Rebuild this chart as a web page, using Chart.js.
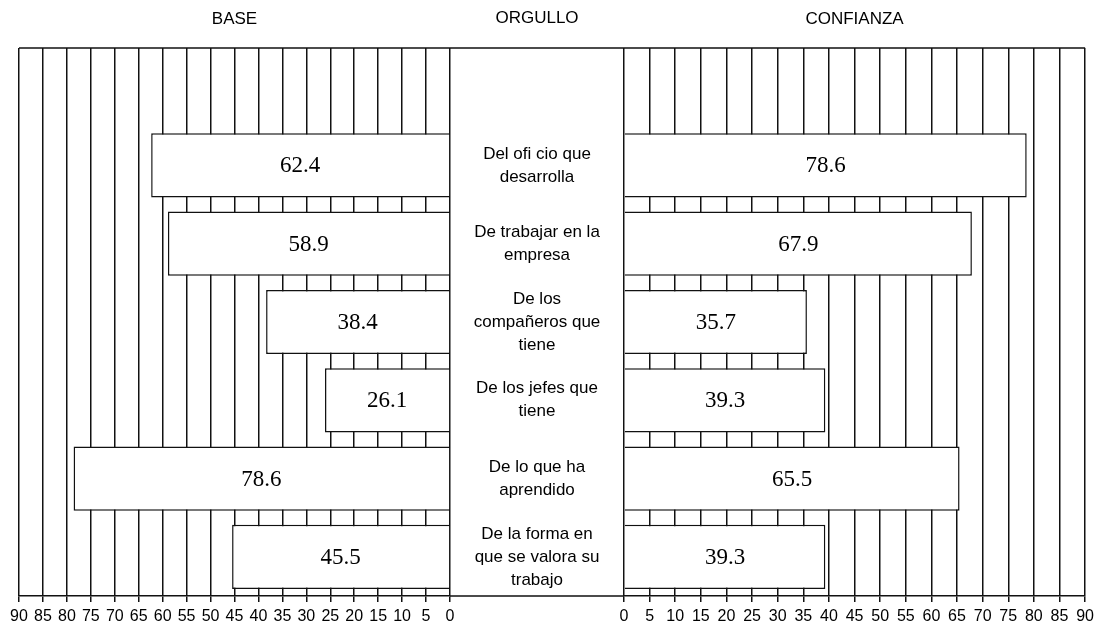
<!DOCTYPE html>
<html>
<head>
<meta charset="utf-8">
<script src="https://cdn.jsdelivr.net/npm/chart.js@4.4.1/dist/chart.umd.min.js"></script>
<style>
  html, body { margin: 0; padding: 0; background: #fff; }
  #wrap { position: relative; width: 1099px; height: 631px; }
  #wrap canvas { position: absolute; left: 0; top: 0; }
</style>
</head>
<body>
<div id="wrap">
  <canvas id="leftChart" width="1099" height="631" style="width:1099px;height:631px"></canvas>
  <canvas id="rightChart" width="1099" height="631" style="width:1099px;height:631px"></canvas>
</div>
<script>
// Data
const categories = [
  ["Del ofi cio que", "desarrolla"],
  ["De trabajar en la", "empresa"],
  ["De los", "compañeros que", "tiene"],
  ["De los jefes que", "tiene"],
  ["De lo que ha", "aprendido"],
  ["De la forma en", "que se valora su", "trabajo"]
];
const baseValues = [62.4, 58.9, 38.4, 26.1, 78.6, 45.5];
const confianzaValues = [78.6, 67.9, 35.7, 39.3, 65.5, 39.3];
const leftTitle = "BASE";
const middleTitle = "ORGULLO";
const rightTitle = "CONFIANZA";
const axisMax = 90;
const axisStep = 5;

const INK = "#111";
const SANS = "Arial, 'Liberation Sans', sans-serif";
const SERIF = "'Times New Roman', 'Liberation Serif', serif";

// an empty slot sits above the first row in the original
const rowLabels = [""].concat(categories.map(c => c.join(" ")));
const pad = arr => [null].concat(arr);

// Value text inside every bar, plus frame lines and headings
const decorPlugin = {
  id: "decor",
  afterDatasetsDraw(chart, args, opts) {
    const ctx = chart.ctx;
    const area = chart.chartArea;
    const yScale = chart.scales.y;

    // values inside bars
    const meta = chart.getDatasetMeta(0);
    ctx.save();
    ctx.fillStyle = "#000";
    ctx.font = "23px " + SERIF;
    ctx.textAlign = "center";
    ctx.textBaseline = "middle";
    meta.data.forEach((bar, i) => {
      const v = chart.data.datasets[0].data[i];
      if (v === null) return;
      const p = bar.getProps(["x", "base", "y"], true);
      ctx.fillText(v.toFixed(1), (p.x + p.base) / 2, p.y + 1);
    });
    ctx.restore();

    // top frame line (and bottom line through the middle gap)
    const frameLeft = opts.withMiddle ? yScale.left : area.left;
    ctx.save();
    ctx.strokeStyle = INK;
    ctx.lineWidth = 1.5;
    ctx.beginPath();
    ctx.moveTo(frameLeft, area.top);
    ctx.lineTo(area.right, area.top);
    if (opts.withMiddle) {
      ctx.moveTo(yScale.left, area.bottom);
      ctx.lineTo(area.left, area.bottom);
    }
    ctx.stroke();
    ctx.restore();

    // middle category labels
    if (opts.withMiddle) {
      ctx.save();
      ctx.fillStyle = "#000";
      ctx.font = "17px " + SANS;
      ctx.textAlign = "center";
      ctx.textBaseline = "middle";
      const cx = (yScale.left + yScale.right) / 2;
      const lineH = 23;
      categories.forEach((lines, i) => {
        const cy = yScale.getPixelForValue(i + 1);
        const y0 = cy - (lines.length - 1) * lineH / 2;
        lines.forEach((t, k) => ctx.fillText(t, cx, y0 + k * lineH));
      });
      ctx.restore();
    }

    // headings
    ctx.save();
    ctx.fillStyle = "#000";
    ctx.font = "17px " + SANS;
    ctx.textAlign = "center";
    ctx.textBaseline = "middle";
    ctx.fillText(opts.title, (area.left + area.right) / 2, 19);
    if (opts.withMiddle) {
      ctx.fillText(middleTitle, (yScale.left + yScale.right) / 2, 18);
    }
    ctx.restore();
  }
};

function makeChart(canvasId, values, side) {
  const isLeft = side === "left";
  return new Chart(document.getElementById(canvasId), {
    type: "bar",
    data: {
      labels: rowLabels,
      datasets: [{
        data: pad(values),
        backgroundColor: "#fff",
        borderColor: INK,
        borderWidth: 1.5,
        barPercentage: 0.82,
        categoryPercentage: 1
      }]
    },
    options: {
      indexAxis: "y",
      responsive: false,
      animation: false,
      layout: {
        padding: isLeft
          ? { left: 19, right: 649, top: 48, bottom: 0 }
          : { left: 450, right: 9, top: 48, bottom: 0 }
      },
      plugins: {
        legend: { display: false },
        tooltip: { enabled: false },
        decor: { title: isLeft ? leftTitle : rightTitle, withMiddle: !isLeft }
      },
      scales: {
        x: {
          type: "linear",
          min: 0,
          max: axisMax,
          reverse: isLeft,
          afterFit(scale) { scale.height = 35; },
          grid: { color: INK, lineWidth: 1.5, tickLength: 6, drawTicks: true },
          border: { color: INK, width: 1.5 },
          ticks: {
            stepSize: axisStep,
            autoSkip: false,
            maxRotation: 0,
            padding: 5,
            color: "#000",
            font: { family: SANS, size: 16 }
          }
        },
        y: {
          type: "category",
          display: !isLeft,
          position: "left",
          afterFit(scale) { if (!isLeft) scale.width = 174; },
          grid: { display: false },
          border: { display: false },
          ticks: { display: false }
        }
      }
    },
    plugins: [decorPlugin]
  });
}

makeChart("leftChart", baseValues, "left");
makeChart("rightChart", confianzaValues, "right");
</script>
</body>
</html>
